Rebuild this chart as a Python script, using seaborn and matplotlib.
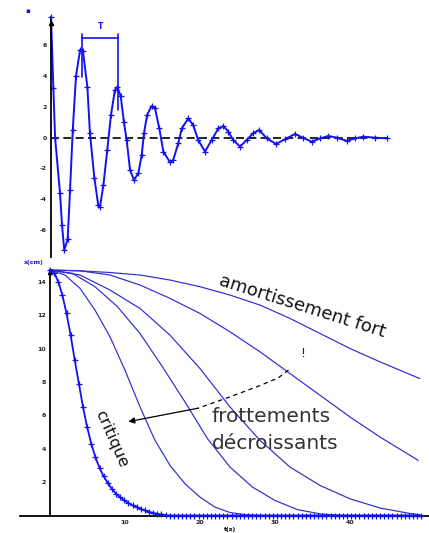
import numpy as np
import pandas as pd
import matplotlib

matplotlib.use("Agg")
import matplotlib.pyplot as plt
import seaborn as sns

# --- top panel: damped oscillation ---
osc_t = [0, 0.14, 0.24, 0.53, 0.65, 0.78, 0.98, 1.12, 1.28, 1.47, 1.71, 1.88,
         2.14, 2.29, 2.55, 2.78, 2.88, 3.08, 3.31, 3.53, 3.76, 3.9, 4.1, 4.29,
         4.45, 4.65, 4.88, 5.14, 5.34, 5.47, 5.66, 5.92, 6.12, 6.37, 6.61, 7.0,
         7.19, 7.49, 7.69, 8.08, 8.37, 8.66, 9.06, 9.45, 9.84, 10.14, 10.43,
         10.72, 11.12, 11.51, 11.9, 12.25, 12.69, 13.24, 13.76, 14.35, 14.82,
         15.34, 15.82, 16.31, 16.82, 17.39, 17.88, 18.37, 19.06, 19.75]
osc_y = [7.86, 3.2, 0.0, -3.6, -5.7, -7.3, -6.6, -3.4, 0.5, 4.0, 5.7, 5.6,
         3.3, 0.3, -2.6, -4.4, -4.5, -3.1, -0.8, 1.5, 3.1, 3.3, 2.7, 1.0,
         -0.15, -2.1, -2.75, -2.3, -1.1, 0.3, 1.5, 2.05, 1.9, 0.6, -0.9, -1.6,
         -1.45, -0.35, 0.6, 1.26, 0.8, -0.15, -0.9, -0.15, 0.6, 0.76, 0.4,
         -0.15, -0.58, -0.15, 0.3, 0.5, -0.04, -0.41, -0.1, 0.24, 0.0,
         -0.26, -0.05, 0.11, 0.0, -0.2, -0.05, 0.07, 0.0, -0.04]
osc_yticks = [-6, -4, -2, 0, 2, 4, 6]

# --- bottom panel: overdamped returns ---
fort_t = [0, 4, 8, 12, 16, 20, 24, 28, 32, 36, 40, 44, 49.3]
fort_y = [14.7, 14.65, 14.55, 14.4, 14.1, 13.7, 13.2, 12.6, 11.8, 10.9, 10.0,
          9.2, 8.2]

b_t = [0, 4, 8, 12, 16, 20, 24, 28, 32, 36, 40, 44, 49.1]
b_y = [14.7, 14.65, 14.4, 13.8, 13.0, 12.1, 11.0, 9.8, 8.5, 7.2, 5.9, 4.7, 3.3]

c_t = [0, 4, 8, 12, 16, 20, 24, 28, 32, 36, 40, 44, 48, 49.3]
c_y = [14.7, 14.4, 13.5, 12.4, 10.8, 8.8, 6.5, 4.5, 2.9, 1.8, 1.0, 0.45, 0.12,
       0.05]

d_t = [0, 3, 6, 9, 12, 15, 18, 21, 24, 27, 30, 33, 36, 39, 49.3]
d_y = [14.7, 14.5, 13.7, 12.5, 10.9, 8.9, 6.8, 4.6, 2.9, 1.7, 0.9, 0.35, 0.1,
       0.0, 0.0]

e_t = [0, 2, 4, 6, 8, 10, 12, 14, 16, 18, 20, 22, 24, 26, 28, 49.3]
e_y = [14.7, 14.4, 13.6, 12.3, 10.7, 8.7, 6.5, 4.5, 3.0, 1.9, 1.1, 0.5, 0.18,
       0.05, 0.0, 0.0]

# critical damping, sampled every dt seconds
crit_dt = 0.55
crit_y = [14.7, 14.55, 14.0, 13.2, 12.1, 10.8, 9.3, 7.9, 6.5, 5.3,
          4.3, 3.5, 2.85, 2.35, 1.95, 1.6, 1.3, 1.1, 0.9, 0.75,
          0.6, 0.5, 0.4, 0.3, 0.22, 0.15, 0.1, 0.06, 0.03, 0.0,
          0, 0, 0, 0, 0, 0, 0, 0, 0, 0, 0, 0, 0, 0, 0,
          0, 0, 0, 0, 0, 0, 0, 0, 0, 0, 0, 0, 0, 0, 0,
          0, 0, 0, 0, 0, 0, 0, 0, 0, 0, 0, 0, 0, 0, 0,
          0, 0, 0, 0, 0, 0, 0, 0, 0, 0, 0, 0, 0, 0, 0, 0]
crit_t = np.arange(len(crit_y)) * crit_dt
bottom_xticks = [10, 20, 30, 40]
bottom_yticks = [2, 4, 6, 8, 10, 12, 14]

sns.set_theme(style="white")
plt.rcParams["font.family"] = ["DejaVu Sans"]

blue = "#1212f0"
thin_blue = "#2b2bd6"

W, H = 429, 533
fig = plt.figure(figsize=(W / 100, H / 100), dpi=100)

# ---------------- top panel ----------------
ax1 = fig.add_axes([51 / W, 1 - 257.8 / H, 338.3 / W, 242.5 / H])
ax1.set_facecolor("white")
df_osc = pd.DataFrame({"t": osc_t, "y": osc_y})
sns.lineplot(data=df_osc, x="t", y="y", ax=ax1, color=blue, lw=1.4,
             marker="+", markersize=4.5, markeredgewidth=0.9,
             markeredgecolor=blue, sort=False, clip_on=False)
ax1.axhline(0, xmin=0, xmax=19.8 / 19.9, color="black", lw=1.2,
            ls=(0, (4.8, 2.6)), zorder=1)
ax1.set_xlim(0, 19.9)
ax1.set_ylim(-7.8, 7.95)
for s in ["top", "right", "bottom"]:
    ax1.spines[s].set_visible(False)
ax1.spines["left"].set_bounds(-7.75, 7.64)
ax1.spines["left"].set_linewidth(1.3)
ax1.spines["left"].set_color("black")
ax1.set_xticks([])
ax1.set_yticks(osc_yticks)
ax1.set_yticklabels([str(v) for v in osc_yticks], fontsize=4.5, weight="bold")
ax1.tick_params(axis="y", length=0, pad=3)
ax1.set_xlabel("")
ax1.set_ylabel("")

# period bracket
ax1.plot([1.84, 1.84], [6.75, 3.96], color=blue, lw=1.2, clip_on=False)
ax1.plot([3.96, 3.96], [6.75, 1.8], color=blue, lw=1.2, clip_on=False)
ax1.plot([1.84, 3.96], [6.45, 6.45], color=blue, lw=1.2, clip_on=False)
ax1.text(2.9, 6.9, "T", color=blue, fontsize=5.5, weight="bold",
         ha="center", va="bottom")
ax1.plot([0], [7.45], marker="^", color="black", ms=3, clip_on=False)
fig.text(28 / W, 1 - 11 / H, "\u25aa", color=blue, fontsize=5,
         ha="center", va="center")

# ---------------- bottom panel ----------------
ax2 = fig.add_axes([20 / W, 1 - 532.2 / H, 408.75 / W, 267.2 / H])
ax2.set_facecolor("white")
ax2.patch.set_alpha(0)
for tt, yy in [(fort_t, fort_y), (b_t, b_y), (c_t, c_y), (d_t, d_y), (e_t, e_y)]:
    sns.lineplot(x=tt, y=yy, ax=ax2, color=thin_blue, lw=0.85)
sns.lineplot(x=crit_t, y=crit_y, ax=ax2, color=blue, lw=1.3, marker="+",
             markersize=4.5, markeredgewidth=0.9, markeredgecolor=blue,
             zorder=4)

ax2.set_xlim(-4, 50.5)
ax2.set_ylim(-1.0, 15.0)
for s in ["top", "right"]:
    ax2.spines[s].set_visible(False)
ax2.spines["left"].set_position(("data", 0))
ax2.spines["bottom"].set_position(("data", 0))
ax2.spines["left"].set_bounds(0, 14.7)
for s in ["left", "bottom"]:
    ax2.spines[s].set_linewidth(1.3)
    ax2.spines[s].set_color("black")
ax2.set_xticks(bottom_xticks)
ax2.set_xticklabels([str(v) for v in bottom_xticks], fontsize=4.5, weight="bold")
ax2.set_yticks(bottom_yticks)
ax2.set_yticklabels([str(v) for v in bottom_yticks], fontsize=4.5, weight="bold")
ax2.tick_params(length=0, pad=3)
ax2.set_xlabel("")
ax2.set_ylabel("")
ax2.plot([0], [14.6], marker="^", color="black", ms=3, clip_on=False)

fig.text(34 / W, 1 - 263 / H, "x(cm)", color=blue, fontsize=4.5,
         weight="bold", ha="center", va="center")
fig.text(230 / W, 1 - 530 / H, "t(s)", color="black", fontsize=4.5,
         weight="bold", ha="center", va="center")

# annotations
ax2.text(33.6, 12.5, "amortissement fort", rotation=-17.5, fontsize=13,
         ha="center", va="center", rotation_mode="anchor", color="#111111")
ax2.text(8.2, 4.6, "critique", rotation=-66, fontsize=11.5,
         ha="center", va="center", rotation_mode="anchor", color="#111111")
ax2.text(21.6, 5.6, "frottements", fontsize=14.5, ha="left",
         va="baseline", color="#333333")
ax2.text(21.6, 4.0, "décroissants", fontsize=14.5, ha="left",
         va="baseline", color="#333333")
ax2.text(33.7, 9.7, "!", fontsize=9, ha="center", va="center", color="#222222")
ax2.plot([31.8, 30.4, 27.6, 23.6, 19.7], [8.71, 8.23, 7.71, 7.04, 6.42],
         color="black", lw=0.9, ls=(0, (3.5, 3)))
ax2.annotate("", xy=(10.44, 5.62), xytext=(19.7, 6.42),
             arrowprops=dict(arrowstyle="-|>", color="black", lw=0.9,
                             mutation_scale=9, shrinkA=0, shrinkB=0))

fig.savefig("out.png", dpi=100)
